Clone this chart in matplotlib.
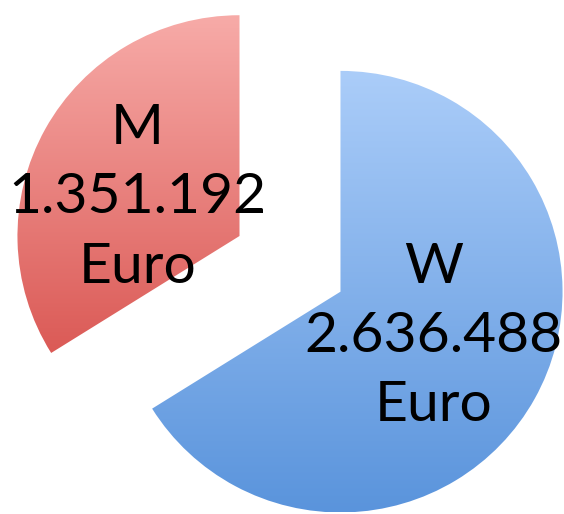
import numpy as np
import matplotlib.pyplot as plt
from matplotlib.colors import LinearSegmentedColormap

labels = ['W', 'M']
values = [2636488, 1351192]
value_text = ['2.636.488', '1.351.192']
top_colors = ['#abcdf9', '#f7aba8']
bottom_colors = ['#5a94dc', '#db5a56']

fig = plt.figure(figsize=(5.64, 5.14), dpi=100)
ax = fig.add_axes([0, 0, 1, 1])

wedges, texts, autotexts = ax.pie(values, startangle=90, counterclock=False,
                                  explode=[0.26, 0.26], radius=1,
                                  autopct='%1.0f', pctdistance=0.48)

ax.set_aspect('equal')
ax.axis('off')

# vertical gradient fill per slice
grad = np.linspace(1, 0, 256).reshape(-1, 1)
for w, c1, c2 in zip(wedges, top_colors, bottom_colors):
    w.set_facecolor('none')
    w.set_edgecolor('none')
    bb = w.get_path().get_extents(w.get_transform() - ax.transData)
    cmap = LinearSegmentedColormap.from_list('g', [c2, c1])
    im = ax.imshow(grad, cmap=cmap, extent=[bb.x0, bb.x1, bb.y0, bb.y1],
                   origin='upper', aspect='auto', zorder=1)
    im.set_clip_path(w)

ax.set_xlim(-1.306, 1.234)
ax.set_ylim(-1.133, 1.195)

nudge = [(0.0, 0.03), (-0.04, -0.06)]
for t, lab, val, (dx, dy) in zip(autotexts, labels, value_text, nudge):
    t.set_text(lab + '\n' + val + '\nEuro')
    t.set_fontfamily('Lato')
    t.set_fontsize(41)
    t.set_linespacing(1.45)
    t.set_color('black')
    t.set_zorder(3)
    x, y = t.get_position()
    t.set_position((x + dx, y + dy))

fig.savefig('out.png', dpi=100)
